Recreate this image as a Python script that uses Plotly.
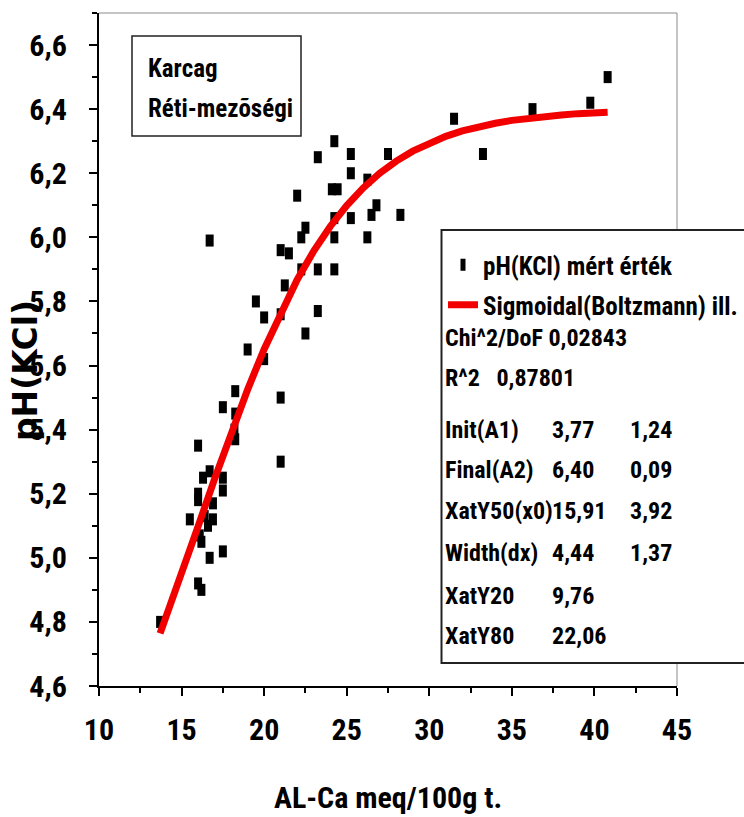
import plotly.graph_objects as go

# ---- data ----
x_measured = [13.7, 15.5, 16.0, 16.0, 16.0, 16.0, 16.2, 16.1, 16.2, 16.3, 16.4, 16.6, 16.7, 16.7,
              16.7, 16.9, 16.9, 17.5, 17.5, 17.5, 17.5, 18.25, 18.25, 18.2, 18.25, 19.0, 19.5,
              20.0, 20.0, 21.0, 21.0, 21.0, 21.0, 21.5, 21.25, 22.0, 22.25, 22.25, 22.5, 22.5,
              23.25, 23.25, 23.25, 24.25, 24.1, 24.45, 24.25, 24.25, 24.25, 25.25, 25.25, 25.25,
              26.25, 26.25, 26.5, 26.8, 27.5, 28.25, 31.5, 33.25, 36.25, 39.75, 40.8]
y_measured = [4.80, 5.12, 5.35, 5.20, 5.18, 4.92, 4.90, 5.07, 5.05, 5.25, 5.13, 5.10, 5.27, 5.00,
              5.99, 5.17, 5.12, 5.25, 5.21, 5.47, 5.02, 5.52, 5.45, 5.40, 5.37, 5.65, 5.80,
              5.75, 5.62, 5.50, 5.30, 5.76, 5.96, 5.95, 5.85, 6.13, 5.90, 6.00, 6.03, 5.70,
              6.25, 5.90, 5.77, 6.30, 6.15, 6.15, 6.06, 6.00, 5.90, 6.26, 6.20, 6.06,
              6.18, 6.00, 6.07, 6.10, 6.26, 6.07, 6.37, 6.26, 6.40, 6.42, 6.50]

fit_x = [13.7, 14, 15, 16, 17, 18, 19, 20, 21, 22, 23, 24, 25, 26, 27, 28, 29, 30, 31, 32, 33,
         34, 35, 36, 37, 38, 39, 40, 40.8]
fit_y = [4.764, 4.806, 4.951, 5.098, 5.246, 5.389, 5.525, 5.651, 5.766, 5.868, 5.957, 6.034,
         6.099, 6.154, 6.200, 6.238, 6.269, 6.294, 6.315, 6.332, 6.345, 6.356, 6.365, 6.372,
         6.377, 6.382, 6.386, 6.388, 6.390]

series_names = ["pH(KCl) mért érték", "Sigmoidal(Boltzmann) ill."]
stat_rows_single = ["Chi^2/DoF 0,02843", "R^2   0,87801"]
stat_names = ["Init(A1)", "Final(A2)", "XatY50(x0)", "Width(dx)", "XatY20", "XatY80"]
stat_values = ["3,77", "6,40", "15,91", "4,44", "9,76", "22,06"]
stat_errors = ["1,24", "0,09", "3,92", "1,37", "", ""]
site_lines = ["Karcag", "Réti-mezõségi"]
x_title = "AL-Ca meq/100g t."
y_title = "pH(KCl)"

# ---- layout helpers (pixel -> paper) ----
W, H = 744, 817
L, R, T, B = 99, 677, 13, 686


def px(x):
    return (x - L) / (R - L)


def py(y):
    return (B - y) / (B - T)


NARROW = "Roboto Condensed, Liberation Sans Narrow, sans-serif"

fig = go.Figure()
fig.add_trace(go.Scatter(
    x=x_measured, y=y_measured, mode="markers", name=series_names[0],
    marker=dict(symbol="line-ns-open", size=8.6, color="black",
                line=dict(width=8, color="black")),
    legend="legend"))
fig.add_trace(go.Scatter(
    x=fit_x, y=fit_y, mode="lines", name=series_names[1],
    line=dict(color="#f20000", width=7),
    legend="legend2"))

shapes = [
    dict(type="line", xref="paper", yref="paper", x0=0, x1=1, y0=1, y1=1,
         line=dict(color="#8a8a8a", width=1)),
    dict(type="line", xref="paper", yref="paper", x0=1, x1=1, y0=0, y1=1,
         line=dict(color="#8a8a8a", width=1)),
    dict(type="rect", xref="paper", yref="paper", x0=px(132), x1=px(301), y0=py(136), y1=py(36),
         line=dict(color="#222", width=1.5), fillcolor="white", layer="above"),
    dict(type="rect", xref="paper", yref="paper", x0=px(441.5), x1=px(770), y0=py(663), y1=py(230),
         line=dict(color="#222", width=2), fillcolor="white", layer="above"),
]

ann = []
tf = dict(family=NARROW, size=25, color="black", weight="bold")
ann.append(dict(text=site_lines[0], x=px(146), y=py(68), xref="paper", yref="paper",
                xanchor="left", yanchor="middle", showarrow=False, font=tf))
ann.append(dict(text=site_lines[1], x=px(146), y=py(108), xref="paper", yref="paper",
                xanchor="left", yanchor="middle", showarrow=False, font=tf))

lf = dict(family=NARROW, size=24, color="black", weight="bold")
row_y = [338, 378, 430, 470, 511, 553, 596, 636]
for i, s in enumerate(stat_rows_single):
    ann.append(dict(text=s, x=px(443), y=py(row_y[i]), xref="paper", yref="paper",
                    xanchor="left", yanchor="middle", showarrow=False, font=lf))
for j, (n, v, e) in enumerate(zip(stat_names, stat_values, stat_errors)):
    yy = py(row_y[j + 2])
    ann.append(dict(text=n, x=px(443), y=yy, xref="paper", yref="paper",
                    xanchor="left", yanchor="middle", showarrow=False, font=lf))
    ann.append(dict(text=v, x=px(550), y=yy, xref="paper", yref="paper",
                    xanchor="left", yanchor="middle", showarrow=False, font=lf))
    if e:
        ann.append(dict(text=e, x=px(628), y=yy, xref="paper", yref="paper",
                        xanchor="left", yanchor="middle", showarrow=False, font=lf))

ann.append(dict(text=x_title, x=px(388), y=py(797), xref="paper", yref="paper",
                xanchor="center", yanchor="middle", showarrow=False,
                font=dict(family=NARROW, size=30, color="black", weight="bold")))
ann.append(dict(text=y_title, x=px(25), y=py(371), xref="paper", yref="paper",
                xanchor="center", yanchor="middle", showarrow=False, textangle=-90,
                font=dict(family="DejaVu Sans", size=33, color="black", weight="bold")))

axis_common = dict(showline=True, linewidth=2, linecolor="black", showgrid=False,
                   zeroline=False, ticks="outside", tickwidth=2, tickcolor="black",
                   automargin=False,
                   tickfont=dict(family=NARROW, size=30, color="black", weight="bold"))

fig.update_layout(
    width=W, height=H,
    margin=dict(l=L, r=W - R, t=T, b=H - B, autoexpand=False),
    paper_bgcolor="white", plot_bgcolor="white",
    separators=", ",
    xaxis=dict(range=[10, 45], dtick=5, tick0=10, ticklen=8, ticklabelstandoff=8,
               minor=dict(dtick=2.5, ticklen=5, tickwidth=2, tickcolor="black", ticks="outside"),
               **axis_common),
    yaxis=dict(range=[4.6, 6.7], dtick=0.2, tick0=4.6, tickformat=".1f", ticklen=8,
               ticklabelstandoff=16,
               minor=dict(dtick=0.1, ticklen=5, tickwidth=2, tickcolor="black", ticks="outside"),
               **axis_common),
    showlegend=True,
    legend=dict(x=px(443), y=py(242), xanchor="left", yanchor="top",
                bgcolor="rgba(0,0,0,0)", borderwidth=0,
                font=dict(family=NARROW, size=25, color="black", weight="bold")),
    legend2=dict(x=px(443), y=py(282), xanchor="left", yanchor="top",
                 bgcolor="rgba(0,0,0,0)", borderwidth=0,
                 font=dict(family=NARROW, size=25, color="black", weight="bold")),
    shapes=shapes,
    annotations=ann,
)

fig.write_html("out.html")
